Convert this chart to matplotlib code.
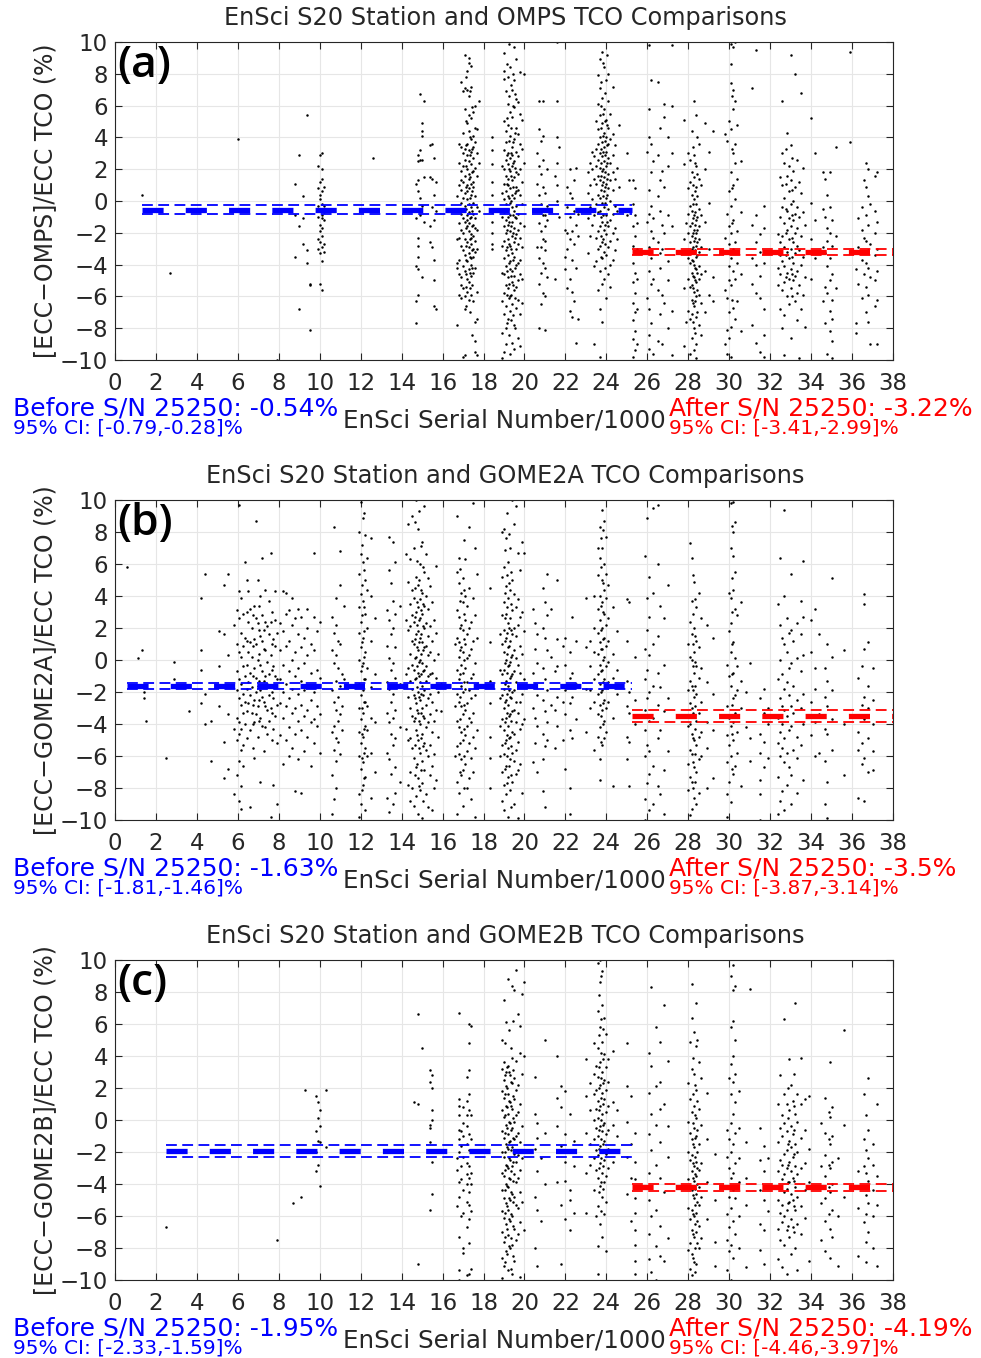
import matplotlib
matplotlib.use("Agg")
import matplotlib.pyplot as plt

# ---------------- data ----------------
titles = ["EnSci S20 Station and OMPS TCO Comparisons",
          "EnSci S20 Station and GOME2A TCO Comparisons",
          "EnSci S20 Station and GOME2B TCO Comparisons"]
ylabels = ["[ECC\u2212OMPS]/ECC TCO (%)", "[ECC\u2212GOME2A]/ECC TCO (%)", "[ECC\u2212GOME2B]/ECC TCO (%)"]
panel_tags = ["(a)", "(b)", "(c)"]
xlabel = "EnSci Serial Number/1000"
x_ticks = list(range(0, 39, 2))
y_ticks = list(range(-10, 11, 2))
split_sn = 25.25  # S/N 25250 / 1000

before_mean = [-0.54, -1.63, -1.95]
before_ci = [(-0.79, -0.28), (-1.81, -1.46), (-2.33, -1.59)]
before_start = [1.3, 0.6, 2.5]
after_mean = [-3.22, -3.5, -4.19]
after_ci = [(-3.41, -2.99), (-3.87, -3.14), (-4.46, -3.97)]
before_txt = ["Before S/N 25250: -0.54%", "Before S/N 25250: -1.63%", "Before S/N 25250: -1.95%"]
before_ci_txt = ["95% CI: [-0.79,-0.28]%", "95% CI: [-1.81,-1.46]%", "95% CI: [-2.33,-1.59]%"]
after_txt = ["After S/N 25250: -3.22%", "After S/N 25250: -3.5%", "After S/N 25250: -4.19%"]
after_ci_txt = ["95% CI: [-3.41,-2.99]%", "95% CI: [-3.87,-3.14]%", "95% CI: [-4.46,-3.97]%"]

# scatter data: (serial number/1000, [percent differences])
omps_before = [
    (1.3, [0.4]), (2.7, [-4.5]), (6.0, [3.9]), (7.9, [-10.0]), (12.6, [2.7]),
    (8.8, [1.1, -3.5, -0.9]), (9.0, [2.9, -1.6, -6.8]), (9.2, [0.3, -1.1, -2.7]),
    (9.4, [5.4, -3.1, -3.9]), (9.5, [-5.2, -5.3, -8.1]),
    (9.9, [0.8, -0.3, -1.0, -2.4, -3.0, 2.2, -0.6]),
    (10.0, [2.9, 1.2, 0.4, -0.5, -1.5, -2.6, -3.3, -5.2, 0.1, -1.9]),
    (10.1, [3.0, 2.0, 1.4, 0.6, -0.2, -0.9, -1.7, -2.2, -2.9, -3.8, -5.6, -1.1]),
    (10.2, [0.9, -0.3, -1.2, -2.7, -3.2, -0.7]),
    (14.7, [1.1, -1.1, -4.1, -6.3, -7.7]),
    (14.8, [2.9, 2.5, 1.3, 0.6, -2.3, -2.8, -3.5, -4.3, -5.9]),
    (14.9, [6.7, 3.2, 2.6, 0.2, -0.9]),
    (15.0, [4.9, 4.4, 4.1, 2.6, -0.3, -4.8]),
    (15.1, [6.3, 1.5, -1.3]),
    (15.4, [3.5, 1.5, -1.6, -2.6]),
    (15.5, [3.6, 1.4, -0.4, -2.9]),
    (15.6, [2.7, 0.4, -1.2, -3.7, -5.0, -6.6]),
    (15.7, [-0.6, -6.8, 1.2]),
    (16.7, [-2.4, -4.2, -7.8, 0.3, -3.9]),
    (16.8, [3.6, 2.4, 1.0, -0.5, -2.3, -3.7, -4.6, -5.9, -1.4]),
    (16.9, [7.5, 3.4, 1.9, 0.7, -0.8, -1.8, -2.8, -4.8, -6.1, -5.3, 1.3, -0.1]),
    (17.0, [6.9, 4.3, 2.2, 1.2, 0.2, -1.1, -2.0, -3.1, -4.1, -5.5, -9.8, 3.0, -0.6]),
    (17.1, [9.2, 7.1, 5.8, 3.3, 2.6, 1.6, 0.5, -0.3, -1.3, -2.4, -3.4, -4.4, -6.0, -6.8, -9.7]),
    (17.15, [7.8, 5.0, 3.5, 2.2, 0.9, -0.5, -1.7, -2.8, -3.7, -4.6, -5.4, -6.6]),
    (17.2, [8.2, 7.0, 4.9, 3.6, 2.9, 2.0, 1.0, 0.1, -0.9, -1.6, -2.6, -3.8, -4.9, -5.7, -1.2, 0.6]),
    (17.3, [9.0, 8.7, 6.6, 5.4, 4.4, 3.2, 2.5, 1.7, 0.8, -0.2, -0.7, -1.9, -2.9, -3.3, -4.3, -5.1, -6.2, 1.4, -1.4]),
    (17.35, [6.9, 4.0, 2.9, 1.5, 0.2, -1.1, -2.4, -3.5, -4.5, -5.5, -7.0]),
    (17.4, [8.5, 7.2, 5.2, 3.9, 3.1, 2.3, 1.1, 0.4, -0.4, -1.0, -2.1, -2.7, -3.6, -4.0, -4.7, -5.9, -2.3]),
    (17.45, [5.9, 3.3, 1.8, 0.6, -0.6, -1.6, -3.1, -4.2, -5.3, -8.4]),
    (17.5, [5.6, 4.1, 3.4, 2.7, 1.9, 1.2, -0.1, -0.8, -1.5, -2.2, -3.0, -3.5, -4.5, -6.3, 0.9]),
    (17.6, [6.0, 4.6, 3.7, 2.1, 0.3, -1.1, -1.7, -2.5, -3.2, -4.2, -7.6, -8.8, -9.5]),
    (17.7, [4.5, 3.0, 1.6, -0.4, -1.8, -3.0, -5.7, -7.4, -9.7]),
    (17.8, [6.3, 2.4, -0.6]),
    (18.4, [4.0, 3.2, 2.3, 1.2, 0.4, -0.7, -1.3, -2.0, -2.7, -3.0]),
    (18.9, [2.2, 0.5, -1.0, -2.8, -4.5, -6.3, -8.3, -9.9]),
    (19.0, [9.3, 8.2, 7.7, 5.0, 3.2, 2.0, 1.1, 0.1, -0.7, -1.6, -2.5, -3.6, -4.6, -5.8, -7.1, -9.5]),
    (19.1, [6.9, 4.4, 3.7, 2.6, 1.6, 0.6, -0.2, -1.2, -2.0, -3.1, -4.1, -5.3, -6.6, -8.0, -9.0]),
    (19.15, [8.6, 5.2, 2.9, 1.1, -0.6, -1.8, -2.9, -4.4, -5.9, -7.7]),
    (19.2, [7.8, 6.1, 4.8, 3.0, 2.3, 1.4, 0.3, -0.5, -1.5, -2.4, -3.4, -4.8, -5.5, -7.4, 1.0, -1.0]),
    (19.25, [9.9, 6.6, 3.8, 2.0, 0.2, -1.3, -2.7, -3.9, -5.2, -6.1, -8.4]),
    (19.3, [8.4, 5.6, 4.1, 2.7, 1.9, 0.8, -0.1, -0.9, -1.9, -2.8, -3.8, -4.3, -6.0, -6.9, -9.6]),
    (19.35, [7.3, 4.6, 3.0, 1.6, 0.0, -1.6, -3.0, -4.7, -5.9, -7.5]),
    (19.4, [7.0, 5.3, 3.4, 2.2, 1.3, 0.4, -0.4, -1.3, -2.2, -3.3, -4.4, -5.1, -6.5, -8.9, 2.9]),
    (19.45, [8.0, 6.0, 3.7, 2.4, 0.9, -0.9, -2.0, -3.7, -5.3, -7.2]),
    (19.5, [9.7, 7.6, 5.9, 3.9, 2.5, 1.5, 0.2, -0.6, -1.7, -2.6, -3.5, -4.7, -5.6, -7.8, -9.3]),
    (19.55, [6.7, 4.3, 2.1, 0.5, -1.0, -2.3, -4.2, -6.1, -8.0]),
    (19.6, [8.9, 6.4, 4.6, 3.1, 1.8, 0.9, -0.3, -1.1, -2.1, -3.0, -4.0, -5.4, -6.7, 0.6]),
    (19.7, [6.2, 4.2, 2.8, 1.7, 0.7, -0.8, -1.8, -2.7, -3.9, -5.0, -6.2, -8.6]),
    (19.8, [8.1, 5.5, 3.6, 2.0, 0.4, -1.4, -2.3, -3.7, -4.6, -7.1, -9.1]),
    (19.9, [5.1, 3.3, 1.2, -0.2, -2.9, -4.9, -6.4]),
    (20.0, [8.0, 2.4, -1.6]),
    (20.6, [3.0, 1.1, -0.6, -2.9]),
    (20.7, [6.3, 4.5, 2.2, 0.4, -1.4, -3.6, -5.2, -8.0]),
    (20.8, [3.8, 1.7, -0.2, -1.9, -2.9, -4.5, -6.5]),
    (20.9, [6.3, 4.1, 2.6, 0.9, -0.9, -2.4, -3.9, -5.8]),
    (21.0, [0.5, -0.9, -1.6, -2.5, -3.1, -4.2, -6.0, -8.1]),
    (21.1, [2.0, -0.3, -1.2, -4.8]),
    (21.5, [1.6, -4.9]), (21.6, [10.0, 6.3, 4.0, 2.4, 1.0, 0.0]), (21.7, [3.4, -1.0]),
    (22.0, [-1.8, -3.5, -4.3]),
    (22.1, [0.9, -0.4, -2.0, -3.0, -5.5]),
    (22.2, [2.0, 0.5, -1.0, -2.4, -4.9, -6.9]),
    (22.3, [0.2, -1.9, -3.7, -5.7, -7.3]),
    (22.4, [1.3, -0.6, -2.7, -6.3]),
    (22.5, [-1.5, -4.2, -8.9, 2.1]),
    (22.6, [-0.8, -2.2, -7.4]),
    (23.1, [1.8, 0.5, -1.1, -3.3]),
    (23.2, [2.4, 1.0, -0.4, -2.2]),
    (23.3, [3.1, 2.0, 0.1, -1.5]),
    (23.4, [2.8, 1.4, -0.9, -4.1, -9.0]),
    (23.5, [5.0, 3.3, 2.2, 1.1, -0.2, -2.3, -3.8]),
    (23.6, [7.9, 6.1, 4.5, 3.6, 2.6, 1.6, 0.4, -0.7, -1.9, -3.0, -5.6]),
    (23.7, [8.9, 7.1, 5.4, 4.0, 3.0, 2.1, 1.3, 0.2, -0.6, -1.6, -2.8, -4.4, -6.8, -9.8]),
    (23.75, [7.5, 6.0, 4.6, 3.3, 2.4, 1.6, 0.7, -1.0, -2.2, -3.5]),
    (23.8, [9.4, 6.5, 4.9, 3.7, 2.8, 1.9, 1.0, -0.1, -1.3, -2.6, -3.6, -5.2, -7.6]),
    (23.85, [8.7, 5.5, 4.1, 3.1, 2.0, 1.2, 0.3, -0.9, -2.4]),
    (23.9, [8.4, 5.8, 4.3, 3.4, 2.5, 1.5, 0.6, -0.4, -1.8, -3.2, -4.9]),
    (23.95, [6.8, 5.0, 3.8, 2.9, 1.8, 0.9, -0.1, -1.5, -2.7, -4.2]),
    (24.0, [7.6, 5.1, 4.0, 3.1, 2.2, 1.1, 0.2, -0.9, -2.1, -3.4, -6.1]),
    (24.05, [9.2, 4.8, 3.5, 2.4, 1.4, 0.4, -1.3]),
    (24.1, [8.0, 6.3, 4.6, 3.6, 2.7, 1.7, 0.8, -0.5, -1.6, -2.9, -4.6]),
    (24.2, [5.5, 3.9, 2.4, 1.3, 0.0, -1.2, -2.5, -4.0, -5.4]),
    (24.3, [7.2, 4.2, 2.9, 1.8, 0.7, -0.8, -2.0, -3.7]),
    (24.4, [3.5, 1.4, -0.3, -1.7, -3.1]),
    (24.5, [2.1, -0.6, -2.4]),
    (24.6, [4.8, 0.9]),
    (25.0, [3.0, -0.9]), (25.1, [1.3]),
]
omps_after = [
    (25.3, [1.3, -0.2, -1.6, -2.8, -3.9, -5.1, -6.4, -7.5, -8.7, -9.8]),
    (25.4, [0.8, -0.9, -2.2, -3.3, -4.5, -5.8, -7.0, -8.2, -9.4]),
    (25.5, [-1.4, -3.0, -4.9, -6.8, -9.0]),
    (26.0, [3.1, -1.3, -6.1]),
    (26.1, [9.8, 5.8, 4.0, 0.7, -0.8, -2.9, -4.4, -6.8, -8.4, -9.3]),
    (26.2, [7.6, 3.6, 1.8, -0.3, -1.9, -3.6, -5.2, -7.7]),
    (26.3, [2.5, -1.1, -2.3, -4.9, -9.6]),
    (26.5, [7.5, 2.9, 0.3, -2.6, -5.6, -8.8]),
    (26.6, [4.6, 1.3, -0.6, -3.3, -4.2, -7.1]),
    (26.7, [1.9, -1.5, -3.0, -5.9, -9.0]),
    (26.8, [6.1, 5.3, 0.9, -2.0, -6.4]),
    (27.0, [4.0, 2.2, -0.9, -3.8, -5.0, -8.0]),
    (27.2, [9.8, 6.0, 3.0, -1.6, -6.9, -9.7]),
    (27.8, [5.1, 2.3, -2.4, -5.5, -9.1]),
    (27.9, [-1.4, -3.3, -7.6]),
    (28.0, [3.0, 0.8, -0.8, -2.0, -3.6, -4.9, -6.9]),
    (28.1, [2.6, 1.2, -0.3, -1.6, -2.6, -3.9, -5.4, -7.4, -9.6]),
    (28.2, [4.4, 1.8, 0.4, -0.6, -1.4, -2.2, -3.0, -3.7, -4.5, -5.3, -6.2, -7.1, -8.6]),
    (28.25, [3.4, 1.0, -0.2, -1.1, -2.0, -2.9, -3.8, -4.7, -5.5, -6.4, -7.6]),
    (28.3, [6.3, 2.9, 1.5, 0.1, -0.9, -1.8, -2.5, -3.3, -4.0, -4.8, -5.7, -6.6, -8.0, -9.4]),
    (28.35, [2.4, 0.6, -0.7, -1.5, -2.3, -3.1, -4.2, -5.0, -6.3, -8.3]),
    (28.4, [5.4, 2.2, 0.9, -0.2, -1.2, -2.0, -2.8, -3.5, -4.3, -5.1, -6.0, -7.3, -9.0, -9.9]),
    (28.45, [4.0, 1.7, 0.3, -1.0, -1.8, -2.6, -3.4, -4.5, -5.6, -7.0]),
    (28.5, [3.6, 1.4, -0.5, -1.6, -2.4, -3.2, -4.1, -4.9, -5.9, -7.8]),
    (28.6, [1.0, -0.9, -2.9, -4.6, -6.4, -8.4]),
    (28.8, [4.9, 2.0, -1.3, -4.4, -7.0]),
    (29.0, [3.1, -0.1, -3.0, -5.9]),
    (29.2, [4.4, -4.8, -6.3]),
    (29.8, [4.2, -2.3, -5.6, -9.0]),
    (29.9, [3.8, -0.8, -3.2, -6.1, -8.1, -9.6]),
    (30.0, [5.0, 0.6, -1.6, -2.7, -4.1, -5.0, -7.0, -8.6]),
    (30.1, [9.9, 8.6, 7.4, 4.5, 1.8, -0.3, -2.0, -3.6, -5.3, -7.9, -9.8]),
    (30.15, [6.6, 3.3, 0.8, -1.4, -3.3, -6.2]),
    (30.2, [9.7, 7.0, 5.8, 3.0, 1.0, -1.2, -3.0, -4.4, -6.7]),
    (30.3, [10.0, 6.3, 3.6, 2.4, 0.1, -2.6, -4.9, -7.4]),
    (30.4, [4.8, 1.4, -1.9, -3.9, -6.3]),
    (30.6, [2.5, -0.7, -4.6, -8.2]),
    (31.1, [-1.5, -3.6, -5.2, -7.8, 7.1]),
    (31.3, [-0.9, -2.6, -4.0, -5.8, -8.9, 9.5]),
    (31.5, [-2.1, -3.2, -4.7, -6.1, -9.5]),
    (31.7, [-0.3, -1.7, -3.9, -6.8, -8.4, -9.8]),
    (32.4, [-2.1, -4.2, -5.3]),
    (32.5, [1.5, -1.0, -2.6, -3.4, -4.6, -6.8]),
    (32.6, [6.3, 3.0, 1.0, -0.4, -2.2, -3.8, -5.6, -8.0]),
    (32.7, [2.4, 0.2, -1.4, -2.9, -4.1, -5.1, -7.2, -9.7]),
    (32.75, [3.3, 1.1, -0.5, -2.0, -3.4, -4.8]),
    (32.8, [4.3, 1.6, -0.6, -1.8, -3.2, -4.5, -6.0]),
    (32.9, [2.2, 0.6, -1.1, -2.4, -3.6, -4.9, -6.5]),
    (33.0, [9.2, 3.5, 1.3, -0.2, -1.6, -3.0, -4.3, -5.5, -8.6]),
    (33.05, [2.7, 0.7, -0.9, -2.3, -3.5, -4.6, -6.0]),
    (33.1, [1.9, 0.0, -1.2, -2.6, -3.9, -5.0]),
    (33.2, [8.0, 0.9, -0.8, -2.0, -3.3, -4.7, -6.3]),
    (33.3, [2.6, -0.4, -1.7, -2.8, -4.4, -5.8, -7.5]),
    (33.4, [1.2, -1.0, -3.1, -5.3, -9.9]),
    (33.5, [6.8, 0.5, -2.2, -4.0, -6.8]),
    (33.6, [2.1, -0.7, -3.5, -5.9]),
    (33.7, [-1.5, -4.8, -7.9]),
    (34.0, [5.2, -0.1, -2.4, -4.9]),
    (34.2, [3.0, -1.2, -3.6]),
    (34.6, [1.8, -0.5, -2.9, -6.3]),
    (34.7, [1.4, -1.0, -3.3, -5.4, -7.7]),
    (34.8, [0.4, -1.7, -2.5, -4.1, -5.8, -9.6]),
    (34.9, [1.8, -0.4, -2.0, -3.6, -5.0, -6.9, -8.2]),
    (35.0, [-1.2, -2.8, -4.6, -6.2, -7.4, -8.8, -9.9]),
    (35.2, [3.4, -2.2, -5.5]),
    (35.9, [9.4, 3.7]),
    (36.2, [-4.3, -7.7, -8.3]),
    (36.3, [-1.1, -2.9, -5.2]),
    (36.5, [-0.4, -1.8, -3.7, -6.1]),
    (36.6, [1.3, -2.3, -4.6]),
    (36.7, [2.4, 0.9, -0.9, -2.5, -3.9, -5.4, -7.0]),
    (36.8, [2.0, 0.3, -1.5, -3.1, -4.2, -5.9, -7.6]),
    (36.9, [-0.2, -2.7, -4.8, -9.0]),
    (37.1, [1.6, -0.6, -2.0, -3.4, -5.0, -6.6]),
    (37.2, [1.8, -1.3, -3.0, -4.4, -6.2, -9.0]),
]

gome2a_before = [
    (0.6, [5.8]), (1.1, [0.1]), (1.3, [0.6]), (1.4, [-2.0, -2.4]), (1.5, [-3.8]),
    (2.5, [-6.1]), (2.9, [-0.1, -1.2]), (3.6, [-3.2]),
    (4.2, [3.9, 0.6, -0.6, -2.7]), (4.4, [5.4, -2.1, -4.0]), (4.7, [-6.3, -3.8]),
    (5.1, [1.8, -0.4, -2.9]), (5.3, [4.7, 1.6, -5.1, -7.4]), (5.5, [5.4, 0.3, -3.4, -6.8]),
    (5.8, [2.2, -4.3, -8.4]),
    (5.95, [3.1, 1.0, -0.7, -1.9, -3.6, -5.0, -7.2]),
    (6.05, [9.7, 4.3, 2.6, 0.5, -1.2, -2.4, -3.9, -4.6, -6.3, -8.8]),
    (6.15, [3.9, 1.7, 0.2, -1.5, -2.8, -4.3, -5.6, -7.9, -9.3]),
    (6.25, [2.9, 0.9, -0.4, -2.1, -3.3, -5.3, -6.6]),
    (6.35, [6.1, 1.4, -1.0, -2.6, -4.0]),
    (6.45, [5.0, 3.0, 1.2, -0.3, -1.8, -3.2, -4.9]),
    (6.5, [4.3, 2.4, 0.5, -1.4, -2.7]),
    (6.6, [3.2, 1.1, -0.8, -2.2, -4.4, -9.2]),
    (6.7, [2.0, 0.2, -1.7, -3.3]),
    (6.75, [2.8, 0.9, -1.0, -2.8, -4.0, -5.5]),
    (6.8, [3.4, 1.3, -0.5, -2.5, -3.9, -6.1]),
    (6.9, [8.7, 2.6, 1.0, -1.1, -2.0, -3.4]),
    (7.0, [5.0, 2.3, 0.0, -1.6, -2.9, -4.8]),
    (7.05, [3.4, 1.9, 0.4, -1.3, -2.5, -3.8]),
    (7.1, [4.0, 1.5, -0.3, -1.9, -3.6, -7.6]),
    (7.2, [6.4, 2.8, 1.2, -0.7, -2.3, -4.1]),
    (7.3, [1.9, 0.7, -1.3, -2.6, -5.7]),
    (7.35, [4.4, 2.4, 0.6, -1.0, -2.9, -4.2]),
    (7.4, [2.1, -0.1, -1.5, -3.1, -4.6]),
    (7.5, [3.7, 1.6, -0.9, -2.2, -3.8]),
    (7.6, [6.7, 2.4, 0.3, -1.7, -3.0, -9.8]),
    (7.65, [3.0, 1.0, -0.6, -2.0, -3.3, -5.0]),
    (7.7, [1.3, -0.4, -2.4, -4.3, -7.8]),
    (7.8, [4.3, 2.5, 0.9, -1.0, -3.5]),
    (7.9, [1.7, -1.2, -2.8, -5.2, -9.0]),
    (8.05, [2.3, 0.6, -1.2, -2.7, -4.7]),
    (8.2, [4.3, 1.8, -0.3, -2.0, -3.6, -6.5]),
    (8.35, [4.2, 2.9, 0.9, -1.5, -2.9, -5.0]),
    (8.5, [3.1, 1.2, -0.7, -2.4, -4.2, -6.0]),
    (8.65, [3.9, 2.2, 0.0, -1.8, -3.3, -5.5]),
    (8.8, [2.6, 0.5, -1.0, -3.0, -4.6, -8.2]),
    (8.95, [3.2, 1.6, -0.5, -2.1, -3.8, -6.2]),
    (9.1, [2.7, 0.8, -1.3, -2.8, -4.4, -8.3]),
    (9.25, [1.4, -0.2, -1.9, -3.5, -5.7]),
    (9.4, [3.2, 2.0, 0.3, -1.6, -3.1, -4.8]),
    (9.55, [1.0, -0.8, -2.5, -3.9, -6.6]),
    (9.7, [6.7, 2.7, 0.6, -2.0, -3.7, -5.2]),
    (9.85, [1.8, -0.6, -2.9, -4.1]),
    (10.0, [2.4, -1.1, -3.4, -5.8]),
    (10.6, [2.7, 0.6, -1.9, -4.5, -7.2, -9.6]),
    (10.7, [8.3, 1.7, -0.2, -2.6, -4.1, -5.6, -8.7]),
    (10.8, [3.9, 2.2, 0.3, -1.3, -3.1, -4.9, -6.3, -8.0]),
    (10.9, [1.2, -0.5, -2.3, -3.8, -5.1]),
    (11.0, [6.8, 4.7, 1.0, -1.6, -3.4, -5.9]),
    (11.1, [-0.9, -2.9, -4.4]),
    (11.2, [3.4, -1.2]),
    (11.9, [8.0, 5.4, 3.3, 1.7, 0.0, -1.5, -3.0, -4.5, -6.0, -8.4, -9.8]),
    (12.0, [9.9, 6.6, 4.1, 2.4, 0.8, -0.7, -2.2, -3.7, -5.2, -6.8, -9.0]),
    (12.05, [7.2, 4.7, 2.8, 1.1, -0.4, -1.6, -3.0, -4.6, -6.1, -8.1]),
    (12.1, [8.9, 6.1, 3.7, 1.4, -0.2, -1.9, -3.3, -4.8, -6.4, -7.8]),
    (12.15, [9.2, 5.6, 3.3, 1.8, 0.2, -1.2, -2.6, -4.3, -5.8, -7.4]),
    (12.2, [7.8, 5.0, 2.9, 0.5, -1.2, -2.6, -4.1, -5.5, -7.3, -9.4]),
    (12.3, [6.4, 4.4, 2.0, -0.5, -2.9, -4.4, -6.0]),
    (12.5, [7.6, 4.0, 1.2, -1.7, -3.6, -5.8, -8.6]),
    (12.7, [2.6, -0.9, -3.9, -7.0]),
    (13.3, [3.1, 0.9, -1.4, -3.3, -5.8, -8.6]),
    (13.4, [7.7, 5.6, 2.5, 0.1, -1.8, -3.9, -6.2, -9.5]),
    (13.5, [4.8, 1.6, -0.6, -2.6, -4.6, -7.1]),
    (13.6, [7.4, 3.7, 2.0, -0.2, -2.1, -3.6, -5.3, -9.0]),
    (13.7, [6.1, 2.9, 0.8, -1.1, -3.1, -4.9, -6.7, -8.3]),
    (13.9, [3.4, -1.5, -4.2, -7.6]),
    (14.2, [6.6, 2.5, -0.9, -4.3]),
    (14.3, [8.5, 4.9, 1.9, -0.5, -2.3, -5.0, -7.8]),
    (14.4, [6.3, 3.5, 2.1, 0.4, -1.3, -3.0, -4.9, -7.0, -8.8]),
    (14.5, [9.0, 4.4, 2.8, 1.2, -0.3, -1.8, -3.5, -5.5, -8.0]),
    (14.6, [7.0, 3.9, 2.4, 1.0, -0.6, -2.2, -3.8, -6.1, -9.1]),
    (14.65, [8.6, 4.5, 2.7, 1.3, 0.1, -1.2, -2.4, -3.6, -5.3, -7.2]),
    (14.7, [10.0, 5.2, 3.0, 1.6, 0.2, -1.1, -2.7, -4.4, -6.7, -8.5]),
    (14.75, [6.2, 3.6, 2.2, 0.8, -0.4, -1.7, -3.1, -4.7, -6.5]),
    (14.8, [8.2, 4.7, 3.3, 1.8, 0.6, -0.8, -2.0, -3.3, -5.0, -7.4, -9.6]),
    (14.85, [9.3, 5.0, 2.5, 1.1, -0.1, -1.0, -2.3, -3.8, -5.5, -7.9]),
    (14.9, [6.0, 3.8, 2.6, 1.4, 0.0, -1.4, -2.5, -4.0, -5.8, -8.1]),
    (14.95, [7.1, 4.4, 3.1, 1.6, 0.4, -0.9, -2.1, -3.3, -4.9, -6.9]),
    (15.0, [7.4, 4.2, 2.9, 1.1, -0.2, -1.6, -3.0, -4.6, -6.3, -7.7, -9.9]),
    (15.05, [5.8, 3.5, 2.1, 0.6, -0.7, -2.2, -3.5, -5.4, -8.8]),
    (15.1, [9.6, 5.5, 3.4, 2.0, 0.8, -0.6, -1.9, -3.6, -5.2, -6.9]),
    (15.2, [6.6, 4.0, 2.3, 0.9, -0.4, -1.3, -2.8, -4.2, -5.6, -8.4]),
    (15.3, [5.1, 3.2, 1.5, 0.3, -1.0, -2.4, -3.9, -6.0, -9.2]),
    (15.4, [4.6, 2.1, 0.5, -0.9, -2.1, -3.4, -5.3, -7.2]),
    (15.5, [3.6, 1.2, -0.8, -2.6, -4.5, -6.6, -9.4]),
    (15.6, [2.5, 0.0, -1.7, -3.8, -5.9, -8.0]),
    (15.7, [5.9, 1.7, -1.1, -3.1, -7.5]),
    (15.8, [0.4, -2.0, -4.8]),
    (15.9, [-1.5, -3.2]),
    (16.6, [1.0, -2.9, -6.0]),
    (16.7, [9.0, 5.5, 3.1, 1.4, -0.6, -2.1, -3.8, -5.4, -7.6, -9.6]),
    (16.8, [6.4, 4.8, 2.7, 1.1, 0.2, -1.2, -2.6, -4.2, -5.9, -8.3]),
    (16.85, [5.7, 3.7, 2.0, 0.6, -0.9, -2.3, -3.7, -5.2, -7.0]),
    (16.9, [4.2, 2.2, 0.8, -0.3, -1.6, -2.9, -4.5, -6.2, -7.2]),
    (17.0, [5.1, 3.6, 1.9, 0.5, -0.8, -2.0, -3.4, -5.0, -6.9, -9.1]),
    (17.05, [7.5, 4.4, 2.9, 1.3, 0.0, -1.4, -2.8, -4.3, -6.0, -8.0]),
    (17.1, [6.3, 4.0, 2.5, 1.0, -0.5, -1.8, -3.1, -4.7, -6.5]),
    (17.2, [3.4, 1.6, 0.1, -1.4, -2.7, -4.1, -5.7, -8.0]),
    (17.3, [8.3, 4.5, 2.0, 0.3, -1.9, -3.6, -5.2, -7.4]),
    (17.4, [2.4, 0.7, -1.1, -2.4, -3.9, -6.1, -8.7]),
    (17.5, [9.8, 3.9, 1.2, -0.9, -3.3, -4.8, -7.0]),
    (17.6, [7.0, 2.8, -0.2, -2.2, -5.5, -9.8]),
    (17.7, [5.4, 1.4, -1.5, -4.4]),
    (18.3, [4.5, 1.1, -1.3, -2.7, -4.8, -6.1, -8.0]),
    (18.8, [1.6, -0.6, -2.4, -4.1, -6.0]),
    (18.9, [8.0, 5.2, 2.8, 1.0, -0.9, -2.2, -3.7, -5.3, -7.0, -8.8]),
    (19.0, [8.2, 5.8, 3.6, 1.9, 0.5, -0.6, -1.8, -3.0, -4.4, -5.9, -7.8, -9.4]),
    (19.05, [6.9, 4.2, 2.6, 1.2, -0.2, -1.5, -2.6, -3.9, -5.2, -6.8]),
    (19.1, [7.6, 4.6, 2.9, 1.4, 0.0, -1.3, -2.5, -3.6, -5.0, -6.6, -8.4]),
    (19.15, [9.2, 5.3, 3.3, 1.7, 0.4, -0.8, -2.1, -3.3, -4.7, -6.0, -7.7]),
    (19.2, [6.1, 3.9, 2.3, 0.8, -0.4, -1.6, -2.8, -4.1, -5.5, -7.3, -9.8]),
    (19.25, [7.9, 4.8, 2.0, 0.9, -0.3, -1.9, -3.5, -4.9, -6.6]),
    (19.3, [7.0, 4.4, 2.6, 1.2, -0.1, -1.1, -2.3, -3.4, -4.8, -6.2, -8.1]),
    (19.35, [5.5, 3.5, 1.9, 0.2, -1.0, -2.4, -3.8, -5.4, -7.2, -9.2]),
    (19.4, [10.0, 5.0, 3.1, 1.6, 0.3, -0.9, -2.0, -3.2, -4.5, -5.8, -7.6]),
    (19.5, [8.5, 4.1, 2.0, 0.6, -0.7, -1.9, -3.1, -4.6, -6.3, -9.0]),
    (19.6, [9.6, 3.3, 1.5, 0.1, -1.4, -2.6, -3.9, -5.6, -7.1]),
    (19.7, [6.7, 3.8, 2.2, -0.3, -1.7, -3.3, -5.1, -6.9, -9.9]),
    (19.8, [5.6, 2.7, 0.9, -0.8, -2.6, -4.3, -6.5]),
    (19.9, [7.4, 3.0, 0.4, -2.1, -4.0, -8.3]),
    (20.0, [6.7, 1.8, -1.2, -3.7]),
    (20.4, [3.2, -0.8, -3.0, -6.4]),
    (20.5, [2.3, 0.7, -1.5, -3.6, -5.2]),
    (20.6, [1.6, -0.2, -2.2, -4.1, -7.0]),
    (20.9, [4.5, 2.0, -0.5, -2.5, -4.6, -6.2, -8.2]),
    (21.0, [3.6, 1.4, -1.2, -3.2, -5.4, -9.2]),
    (21.1, [5.4, 2.8, 0.6, -1.9, -3.9, -5.0]),
    (21.3, [3.2, 0.2, -2.8]),
    (21.5, [-0.7, -3.1, -5.5]),
    (21.6, [5.0, 1.3, -0.4, -2.3, -4.1]),
    (21.9, [0.9, -2.6, -5.0]),
    (22.0, [1.4, -0.3, -1.9, -3.4, -6.8]),
    (22.2, [0.5, -1.1, -2.7, -4.4, -8.0, -9.6]),
    (22.3, [2.7, -0.8, -2.3, -4.9]),
    (22.5, [1.2, -1.5, -3.7]),
    (23.0, [3.9, 0.8, -1.8, -4.5]),
    (23.2, [1.2, -0.4, -1.9, -3.0]),
    (23.4, [4.0, 2.0, 0.5, -1.2, -2.6, -5.6]),
    (23.6, [7.0, 5.3, 3.2, 1.7, 0.4, -0.9, -2.1, -3.4, -4.8]),
    (23.7, [8.3, 6.4, 4.0, 2.5, 1.1, -0.3, -1.5, -2.8, -4.2, -6.2, -7.5]),
    (23.75, [7.6, 5.8, 3.4, 1.9, 0.7, -0.7, -2.0, -3.5, -5.1]),
    (23.8, [9.4, 7.0, 5.0, 3.6, 2.0, 0.7, -0.6, -1.9, -3.1, -5.3]),
    (23.85, [8.1, 4.8, 3.0, 1.3, 0.0, -1.4, -2.7, -4.0]),
    (23.9, [8.7, 6.0, 4.4, 2.9, 1.4, 0.2, -1.2, -2.5, -3.8, -4.9]),
    (24.0, [7.7, 5.4, 3.9, 2.2, 0.9, -0.4, -1.7, -3.0, -4.5]),
    (24.1, [4.7, 2.6, 1.2, -0.1, -1.4, -2.6]),
    (24.3, [3.3, 0.4, -1.1, -3.6, -7.9]),
    (24.5, [1.8, -0.6, -2.1]),
    (25.0, [3.8, 1.2, -1.3, -2.9, -4.8, -6.2]),
    (25.1, [3.6, -2.0, -3.3, -5.1, -7.9]),
]
gome2a_after = [
    (25.4, [0.2, -2.5, -4.0]),
    (25.9, [6.5, 0.7, -1.2, -3.1, -4.4, -6.0, -8.7, -10.0]),
    (26.0, [8.9, 3.9, 1.9, -0.6, -2.4, -5.3, -7.7]),
    (26.1, [5.2, 2.7, 0.3, -2.0, -3.8, -5.7, -7.1, -9.4]),
    (26.3, [9.5, 4.2, 1.0, -1.6, -3.6, -6.6, -9.0]),
    (26.5, [9.7, 6.0, 1.5, -0.8, -2.8, -4.9, -7.9]),
    (26.6, [3.4, -1.7, -4.4, -8.4]),
    (26.8, [2.6, -0.3, -3.2, -6.9, -9.6]),
    (27.0, [4.7, -2.4, -5.7]),
    (28.0, [1.0, -1.9, -4.1, -6.5, -8.1]),
    (28.1, [7.3, 2.4, 0.2, -1.3, -2.7, -4.0, -5.6, -7.3, -9.7]),
    (28.2, [6.4, 3.7, 1.6, 0.0, -1.6, -3.0, -4.6, -5.9, -7.6, -9.3]),
    (28.25, [5.3, 2.9, 1.0, -0.4, -1.9, -3.3, -4.9, -6.4, -8.0]),
    (28.3, [4.9, 2.0, 0.5, -0.8, -2.3, -3.5, -5.0, -6.7, -8.6]),
    (28.35, [3.8, 1.5, -0.1, -1.6, -2.9, -4.3, -5.9, -7.6]),
    (28.4, [3.3, 1.2, -0.4, -2.1, -3.8, -5.3, -7.0, -9.0]),
    (28.5, [4.2, 0.8, -1.1, -3.3, -4.8, -6.2, -8.3]),
    (28.6, [2.6, -0.5, -2.6, -4.5, -6.0]),
    (28.9, [2.2, -1.4, -3.9, -5.5, -8.0]),
    (29.2, [1.4, -2.1, -4.4, -7.4]),
    (29.9, [-0.3, -2.9, -4.7, -6.4, -8.4, -9.8]),
    (30.0, [4.2, 1.8, -1.0, -3.6, -5.3, -7.6]),
    (30.1, [9.8, 7.0, 3.9, 2.3, 0.5, -1.6, -4.1, -6.0, -8.9]),
    (30.15, [8.4, 5.1, 3.0, 1.0, -0.9, -2.8, -4.6, -6.8]),
    (30.2, [9.9, 8.0, 6.5, 4.4, 1.1, -0.8, -2.4, -3.9, -5.0, -7.1]),
    (30.3, [8.6, 5.5, 3.2, 0.1, -2.2, -3.3, -6.6]),
    (30.4, [2.8, -0.4, -1.9, -4.5, -5.8]),
    (30.6, [3.6, -1.3, -3.0, -7.9]),
    (30.8, [-2.0, -4.2]),
    (31.0, [-0.2, -4.9, -6.3]),
    (31.5, [-2.4, -4.6, -5.8, -7.5, -8.4, -10.0]),
    (31.7, [-1.8, -3.3, -5.1, -6.7]),
    (31.9, [-3.0, -4.0, -6.1]),
    (32.4, [3.5, -1.2, -3.6, -5.2, -7.3, -9.6]),
    (32.5, [6.4, 2.2, 0.0, -2.4, -4.5, -6.0, -8.8]),
    (32.6, [1.4, -0.9, -2.9, -4.0, -5.5, -8.2]),
    (32.7, [9.4, 4.0, 1.0, -1.8, -3.1, -4.9, -6.4, -9.4]),
    (32.8, [2.6, 0.5, -1.4, -3.5, -5.8, -7.8]),
    (32.9, [1.7, -0.5, -2.2, -4.4, -6.7]),
    (33.0, [5.4, 1.9, -0.2, -2.9, -4.1, -7.2, -9.0]),
    (33.1, [1.2, -1.6, -3.3, -5.6]),
    (33.3, [2.3, 0.1, -2.5, -4.8, -6.1, -8.3]),
    (33.5, [3.7, 1.6, -0.7, -3.0, -5.3]),
    (33.6, [6.2, 2.7, 0.3, -2.1, -4.0, -7.5]),
    (34.0, [2.5, 0.5, -2.6, -4.7]),
    (34.2, [3.2, -0.5, -1.8, -3.9, -6.0]),
    (34.4, [1.6, -3.4, -5.8]),
    (34.7, [-0.5, -2.3, -4.3, -6.3, -9.0]),
    (34.8, [1.0, -1.3, -2.9, -4.6, -7.6, -9.9]),
    (35.0, [5.1, 0.2, -1.9, -3.7, -5.6]),
    (35.6, [0.6, -4.0, -7.2]),
    (36.3, [-1.1, -4.5, -5.6, -8.6]),
    (36.5, [-0.4, -2.8, -5.2, -6.5]),
    (36.6, [4.1, 3.5, 0.7, -2.3, -3.7, -6.1, -8.8]),
    (36.8, [1.1, -1.6, -3.0, -4.9, -7.0]),
    (37.0, [-0.5, -2.5, -4.0, -5.7, -6.9]),
]

gome2b_before = [
    (2.5, [-6.7]), (7.9, [-7.5]), (8.7, [-5.2]), (9.1, [-4.8]), (9.3, [1.9]),
    (9.8, [1.5, -0.7, -2.0, -3.2]),
    (9.9, [1.1, 0.1, -1.3, -2.8]),
    (10.0, [0.6, -0.4, -1.4, -4.1]),
    (10.3, [1.9, -1.7]),
    (14.6, [1.1]), (14.8, [6.6, 1.0, -9.0]), (15.0, [4.5]),
    (15.4, [3.1, 2.4, -0.3, -0.5, -1.4, -5.6]),
    (15.5, [2.8, 2.0, 0.6, 0.0, -2.6, -4.6]),
    (16.7, [-2.4, -3.1, -5.4]),
    (16.8, [6.7, 1.3, 0.9, 0.3, -0.6, -1.2, -2.0, -3.9, -4.8, -7.3, -9.4, -10.0]),
    (16.9, [-0.7, -1.6, -2.9, -3.7, -6.0]),
    (17.0, [0.8, -0.2, -1.0, -2.3, -4.4, -5.8, -8.3, -8.0]),
    (17.2, [2.7, 1.2, 0.3, -0.4, -1.5, -2.7, -3.4, -4.0, -5.1, -6.7, -9.7]),
    (17.3, [6.0, 4.8, 3.1, 1.6, 0.6, -0.9, -1.9, -2.9, -3.6, -4.5, -5.3, -6.2, -7.7, -9.6]),
    (17.4, [5.9, 0.3, -1.2, -3.3, -4.0, -5.7, -9.3]),
    (18.9, [5.0, 3.2, 1.8, 0.6, -0.7, -2.0, -3.3, -4.4, -5.7, -7.0, -8.6, -9.9]),
    (19.0, [7.5, 3.6, 2.5, 1.4, 0.2, -1.1, -2.3, -3.5, -4.9, -6.1, -7.6, -9.1]),
    (19.05, [4.8, 2.8, 1.6, 0.3, -0.8, -2.0, -3.1, -4.4, -5.8, -7.3, -8.9]),
    (19.1, [6.1, 3.0, 2.1, 0.9, -0.3, -1.5, -2.8, -4.0, -5.2, -6.5, -8.2]),
    (19.15, [3.3, 2.0, 0.8, -0.5, -1.7, -2.9, -4.1, -5.4, -6.8, -8.4]),
    (19.2, [8.8, 3.4, 1.6, 0.4, -0.9, -1.8, -3.0, -4.2, -5.6, -7.2, -9.4]),
    (19.25, [5.6, 3.0, 1.2, -0.1, -1.4, -2.4, -3.6, -4.9, -6.2, -7.9]),
    (19.3, [2.8, 1.1, -0.2, -1.3, -2.5, -3.7, -5.0, -6.3, -8.0]),
    (19.35, [4.5, 2.4, 0.9, -0.6, -1.9, -3.2, -4.5, -5.9, -7.4, -9.3]),
    (19.4, [8.4, 3.9, 2.3, 0.7, -0.5, -1.7, -2.9, -4.6, -6.0, -7.8, -9.6]),
    (19.45, [6.2, 3.1, 1.5, 0.1, -1.1, -2.6, -3.8, -5.1, -6.6, -8.5]),
    (19.5, [8.1, 2.6, 1.3, -0.1, -1.2, -2.1, -3.4, -4.8, -6.8, -8.8]),
    (19.6, [9.4, 3.7, 1.9, 0.3, -1.0, -2.6, -3.9, -5.3, -7.5]),
    (19.7, [6.6, 2.2, 0.5, -0.8, -2.2, -3.6, -5.5, -7.1]),
    (19.8, [5.9, 4.2, 1.0, -1.4, -3.1, -4.5, -6.4, -9.8]),
    (19.9, [7.9, 2.9, -0.4, -2.4, -5.1]),
    (20.0, [8.6, 4.0, -1.9, -6.9]),
    (20.5, [2.7, 0.4, -1.8, -4.8, -8.0]),
    (20.6, [-0.2, -1.1, -3.2, -5.6, -9.1]),
    (20.8, [-2.4, -6.3]),
    (21.0, [5.0, -0.8, -4.0]),
    (21.6, [4.0, 1.4, -0.4, -3.9]),
    (21.8, [2.1, 0.8, -1.6, -5.3, -9.0]),
    (22.0, [1.8, -0.9, -2.6, -3.8, -6.2]),
    (22.2, [0.4, -2.0, -4.4, -5.0, -6.9]),
    (22.4, [-1.3, -2.9, -5.8]),
    (23.0, [3.8, 1.5, -0.8, -3.3, -5.8]),
    (23.2, [2.3, 0.6, -1.5, -2.8]),
    (23.4, [4.8, 2.9, 1.6, 0.0, -1.2, -2.4, -4.4]),
    (23.5, [3.4, 1.9, 0.7, -0.5, -1.9, -3.1, -6.0]),
    (23.6, [9.8, 6.8, 4.5, 2.7, 1.2, 0.1, -1.0, -2.2, -3.6, -5.4, -7.9, -9.6]),
    (23.65, [7.8, 5.3, 3.3, 2.0, 0.6, -0.6, -1.8, -3.0, -4.5]),
    (23.7, [10.0, 8.6, 5.8, 3.6, 2.2, 0.9, -0.4, -1.6, -2.7, -4.1, -6.5]),
    (23.75, [9.0, 6.3, 4.2, 2.6, 1.4, 0.0, -1.2, -2.4, -3.9, -5.7]),
    (23.8, [9.3, 7.2, 4.9, 3.0, 1.7, 0.4, -0.7, -1.9, -3.3, -4.8, -7.3]),
    (23.85, [5.7, 3.8, 2.3, 1.0, -0.3, -1.5, -2.9, -4.3]),
    (23.9, [6.4, 4.1, 2.5, 1.3, -0.2, -1.3, -2.5, -3.9, -5.9]),
    (24.0, [5.4, 3.3, 1.9, 0.5, -0.9, -2.1, -3.5, -5.1, -8.2]),
    (24.1, [3.8, 2.4, 0.9, -0.6, -1.8, -3.0]),
    (24.3, [4.3, 1.1, -0.3, -2.6]),
    (24.5, [0.6, -1.0]),
    (25.0, [4.8, 2.1, -0.1, -2.3, -4.6]),
    (25.2, [1.5, -1.5, -3.6, -6.3]),
]
gome2b_after = [
    (25.4, [-0.8, -2.6, -3.7, -4.9, -5.8, -6.9, -7.8, -8.8, -9.6]),
    (26.1, [4.2, 1.7, -0.9, -3.3, -5.0, -7.1, -8.7]),
    (26.2, [8.3, 3.4, 0.4, -1.9, -4.2, -6.0, -9.5]),
    (26.4, [5.8, 2.1, -0.3, -2.8, -5.6, -7.9, -10.0]),
    (26.6, [4.9, 2.4, 0.7, -1.4, -3.6, -6.6, -8.5]),
    (26.8, [7.2, 1.0, -4.5, -8.8]),
    (27.0, [3.7, -0.4, -2.3, -7.4]),
    (28.0, [2.3, -0.1, -2.0, -3.7, -5.5, -8.1]),
    (28.1, [4.9, 1.3, -0.8, -2.5, -4.1, -6.2, -7.7, -9.3]),
    (28.2, [8.5, 6.4, 3.2, 0.5, -1.2, -2.2, -3.2, -4.4, -5.6, -6.9, -8.4, -9.7]),
    (28.25, [3.9, 1.6, -0.2, -1.5, -2.7, -3.6, -4.7, -5.9, -7.1, -8.6]),
    (28.3, [5.5, 2.9, 0.9, -0.5, -1.7, -2.9, -3.8, -4.9, -6.0, -7.3, -8.9]),
    (28.35, [2.2, 0.3, -1.1, -2.3, -3.4, -4.3, -5.3, -6.5, -8.0, -9.5]),
    (28.4, [7.3, 4.6, 1.9, 0.1, -1.0, -2.6, -3.5, -4.6, -5.8, -7.0, -9.0]),
    (28.45, [5.0, 1.2, -0.6, -2.0, -3.0, -4.0, -5.1, -6.3, -7.7]),
    (28.5, [3.6, 0.7, -1.5, -3.1, -4.2, -5.3, -6.6, -8.0]),
    (28.6, [2.6, -0.3, -2.7, -4.8, -7.4]),
    (28.9, [1.7, -1.2, -3.9, -6.2]),
    (29.3, [-2.1, -5.0, -7.6, -9.1]),
    (29.9, [-0.6, -2.3, -4.1, -5.9, -7.5, -9.4]),
    (30.0, [2.6, -1.2, -3.0, -4.8, -6.7, -8.2]),
    (30.1, [9.0, 5.8, 3.5, 1.6, -0.2, -2.0, -3.6, -5.5, -7.8, -10.0]),
    (30.2, [9.7, 8.1, 6.2, 4.0, 2.4, 0.4, -1.5, -3.3, -4.4, -6.3, -8.6]),
    (30.3, [8.4, 5.0, 2.9, 1.1, -0.8, -2.7, -4.9, -7.1]),
    (30.5, [1.8, -0.5, -2.4, -3.9, -6.0, -8.0]),
    (30.8, [-1.4, -3.6, -5.3, -9.2]),
    (31.0, [8.2]),
    (31.5, [-0.5, -2.5, -4.4, -6.5, -8.1]),
    (31.7, [-1.6, -3.2, -5.0, -6.9, -9.0]),
    (31.9, [-2.4, -4.1, -5.7]),
    (32.4, [1.0, -1.4, -3.2, -5.0, -6.8, -8.7]),
    (32.5, [2.8, -0.5, -2.5, -4.2, -5.8, -7.5]),
    (32.6, [0.3, -1.0, -2.8, -3.7, -5.3, -6.4, -9.2]),
    (32.7, [6.3, 1.6, -0.2, -2.1, -3.4, -4.5, -6.0, -7.8]),
    (32.8, [1.0, -0.7, -1.9, -3.0, -4.3, -5.6, -6.9, -9.6]),
    (32.85, [2.0, 0.1, -1.5, -2.8, -3.9, -5.2, -6.6]),
    (32.9, [3.8, 0.6, -1.3, -2.6, -3.9, -5.1, -7.3]),
    (33.0, [2.2, -0.4, -1.7, -3.2, -4.6, -6.2, -8.4]),
    (33.1, [1.2, -0.9, -2.3, -3.6, -5.0, -6.7]),
    (33.15, [2.9, 0.9, -0.6, -2.1, -3.8, -5.4, -7.0]),
    (33.2, [7.3, 0.4, -1.5, -2.9, -4.2, -5.6, -8.0]),
    (33.3, [1.6, -0.1, -2.0, -3.4, -4.8, -6.5, -9.4]),
    (33.5, [3.9, 1.0, -1.1, -3.0, -5.4, -7.1]),
    (33.7, [1.3, -0.6, -2.7, -4.4, -6.1]),
    (33.9, [1.5, -1.8, -3.9, -8.8]),
    (34.5, [-0.2, -2.9, -5.2, -7.5]),
    (34.7, [1.4, -0.8, -2.2, -3.5, -4.9, -6.3, -8.2]),
    (34.85, [0.5, -1.2, -2.8, -4.2, -5.9]),
    (34.9, [3.6, 0.2, -1.5, -3.0, -4.5, -6.8, -8.6]),
    (35.0, [0.8, -1.0, -2.6, -4.0, -5.6, -7.3]),
    (35.3, [-2.4, -6.0, -9.1]),
    (35.6, [5.6, -0.3, -4.8]),
    (36.3, [-3.2, -5.5, -8.5]),
    (36.6, [1.6, -1.2, -2.9, -4.1, -6.4]),
    (36.7, [0.3, -1.9, -3.3, -4.7, -5.9, -7.6, -8.9]),
    (36.8, [2.6, -0.6, -2.4, -3.8, -5.2, -7.0]),
    (37.0, [-1.5, -2.8, -4.4, -6.0, -8.0]),
    (37.2, [1.0, -3.5, -5.3, -9.1]),
]

panel_data = [(omps_before, omps_after), (gome2a_before, gome2a_after), (gome2b_before, gome2b_after)]


def expand(groups):
    xs, ys = [], []
    for x, vals in groups:
        xs.extend([x] * len(vals))
        ys.extend(vals)
    return xs, ys


# ---------------- figure ----------------
W, H = 981, 1358
fig = plt.figure(figsize=(W / 100, H / 100), dpi=100)
plt.rcParams['font.family'] = ['DejaVu Sans']

tops = [42, 500, 960]
bots = [360, 820, 1280]
left_px, right_px = 115, 893
txt_col = '#262626'


def fy(py):
    return 1 - py / H


def fx(px):
    return px / W


for i in range(3):
    T, B = tops[i], bots[i]
    ax = fig.add_axes([fx(left_px), fy(B), (right_px - left_px) / W, (B - T) / H])
    ax.set_xlim(0, 38)
    ax.set_ylim(-10, 10)
    ax.set_xticks(x_ticks)
    ax.set_yticks(y_ticks)
    ax.set_xticklabels([str(v) for v in x_ticks])
    ax.set_yticklabels([str(v).replace('-', '\u2212') for v in y_ticks])
    ax.grid(True, color='#e6e6e6', linewidth=0.8)
    ax.set_axisbelow(True)
    ax.tick_params(direction='in', length=5, width=0.8, colors=txt_col,
                   labelsize=16.5, top=True, right=True)
    ax.tick_params(axis='x', pad=9)
    ax.tick_params(axis='y', pad=5)
    for sp in ax.spines.values():
        sp.set_color('#262626')
        sp.set_linewidth(0.8)

    bef, aft = panel_data[i]
    xb, yb = expand(bef)
    xa, ya = expand(aft)
    ax.scatter(xb + xa, yb + ya, s=3.2, c='k', linewidths=0, zorder=2)

    # before segment (blue)
    xs = [before_start[i], split_sn]
    ax.plot(xs, [before_mean[i]] * 2, color='#0000ff', lw=3.8,
            dashes=(4.0, 4.2), dash_capstyle='butt', zorder=4)
    for c in before_ci[i]:
        ax.plot(xs, [c] * 2, color='#0000ff', lw=1.3, dashes=(6, 3), zorder=4)
    # after segment (red)
    xs2 = [split_sn, 38.5]
    ax.plot(xs2, [after_mean[i]] * 2, color='#ff0000', lw=3.8,
            dashes=(4.0, 4.2), dash_capstyle='butt', zorder=4)
    for c in after_ci[i]:
        ax.plot(xs2, [c] * 2, color='#ff0000', lw=1.3, dashes=(6, 3), zorder=4)

    ax.text(0.003, 0.995, panel_tags[i], transform=ax.transAxes, fontsize=32,
            family=['Open Sans', 'DejaVu Sans'], fontweight='semibold',
            va='top', ha='left', color='k', zorder=6)

    fig.text(fx(45), fy((T + B) / 2), ylabels[i], rotation=90, fontsize=17,
             ha='center', va='center', color=txt_col)
    fig.text(fx(505), fy(T - 24), titles[i], fontsize=17.3, ha='center', va='center',
             color=txt_col)
    fig.text(fx(13), fy(B + 48), before_txt[i], fontsize=18, ha='left', va='center',
             color='#0000ff')
    fig.text(fx(13), fy(B + 68), before_ci_txt[i], fontsize=14.5, ha='left', va='center',
             color='#0000ff')
    fig.text(fx(343), fy(B + 61), xlabel, fontsize=17.7, ha='left', va='center',
             color=txt_col)
    fig.text(fx(669), fy(B + 48), after_txt[i], fontsize=18, ha='left', va='center',
             color='#ff0000')
    fig.text(fx(669), fy(B + 68), after_ci_txt[i], fontsize=14.5, ha='left', va='center',
             color='#ff0000')

fig.savefig('out.png', dpi=100)
